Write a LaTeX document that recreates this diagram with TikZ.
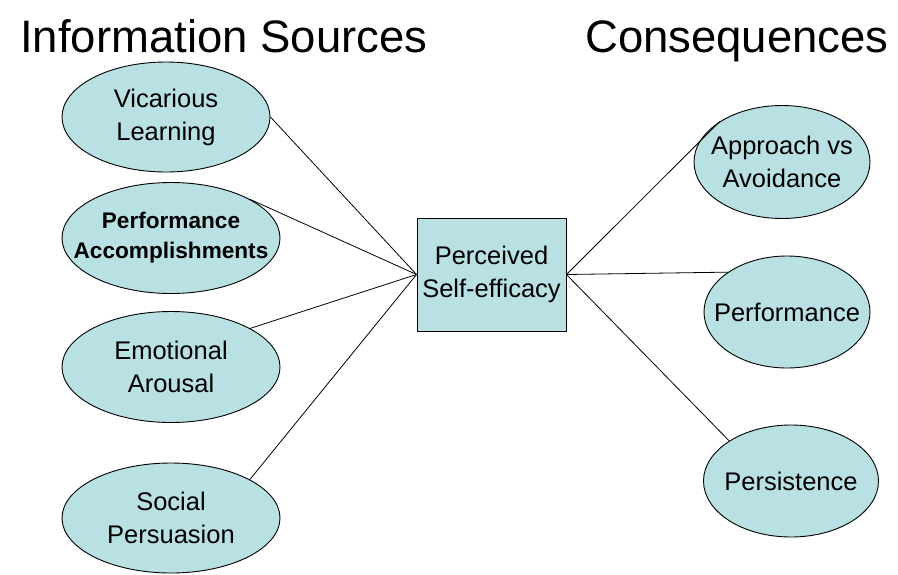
\documentclass[tikz,border=0pt]{standalone}
\usepackage{fontspec}
\setmainfont{Liberation Sans}
\usetikzlibrary{shapes.geometric}
\definecolor{teal1}{RGB}{185,224,227}
\tikzset{
  src/.style={ellipse, draw=black, fill=teal1, line width=0.9pt, inner sep=0pt},
  lbl/.style={align=center, font=\fontsize{25.5}{33}\selectfont, inner sep=0pt},
  blbl/.style={align=center, font=\fontsize{22.6}{30}\selectfont\bfseries, inner sep=0pt},
  centerbox/.style={rectangle, draw=black, fill=teal1, line width=0.9pt, minimum width=149pt, minimum height=113pt, inner sep=0pt, align=center, font=\fontsize{25.5}{33}\selectfont},
  conn/.style={draw=black, line width=0.8pt},
  ttl/.style={font=\fontsize{45.5}{50}\selectfont, inner sep=0pt, anchor=base west}
}
\begin{document}
\begin{tikzpicture}[x=1pt,y=-1pt]
\useasboundingbox (0,0) rectangle (898,574);
\node[ttl] (t1) at (20,52) {Information Sources};
\node[ttl] (t2) at (585,52) {Consequences};

\node[src, minimum width=208pt, minimum height=110pt, label={[lbl]center:Vicarious\\Learning}] (vic) at (166,117) {};
\node[src, minimum width=218pt, minimum height=111pt, label={[blbl]center:Performance\\Accomplishments}] (acc) at (171,238) {};
\node[src, minimum width=218pt, minimum height=111pt, label={[lbl]center:Emotional\\Arousal}] (emo) at (171,367) {};
\node[src, minimum width=218pt, minimum height=110pt, label={[lbl]center:Social\\Persuasion}] (soc) at (171,518) {};

\node[centerbox] (pse) at (491.5,274.5) {Perceived\\Self-efficacy};

\node[src, minimum width=176pt, minimum height=113pt, label={[lbl]center:Approach vs\\Avoidance}] (app) at (782,162) {};
\node[src, minimum width=166pt, minimum height=112pt, label={[lbl]center:Performance}] (perf) at (787,312) {};
\node[src, minimum width=175pt, minimum height=112pt, label={[lbl]center:Persistence}] (pers) at (791,481) {};

\draw[conn] (vic.east) -- (pse.west);
\draw[conn] (acc.26.8) -- (pse.west);
\draw[conn] (emo.26.8) -- (pse.west);
\draw[conn] (soc.26.8) -- (pse.west);
\draw[conn] (pse.east) -- (app.147.5);
\draw[conn] (pse.east) -- (perf.146);
\draw[conn] (pse.east) -- (pers.147.2);
\end{tikzpicture}
\end{document}
